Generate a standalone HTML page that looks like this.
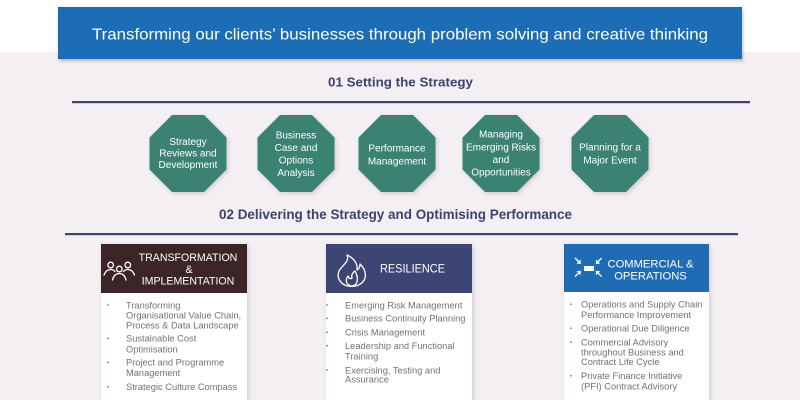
<!DOCTYPE html>
<html><head><meta charset="utf-8">
<style>
html,body{margin:0;padding:0;background:#f3eff2;}
svg{display:block;}
text{font-family:"Liberation Sans",Arial,sans-serif;}
</style></head>
<body>
<svg width="800" height="400" viewBox="0 0 800 400" xmlns="http://www.w3.org/2000/svg">
<defs>
<filter id="sh" x="-10%" y="-10%" width="130%" height="140%">
<feDropShadow dx="1" dy="2" stdDeviation="1.5" flood-color="#000" flood-opacity="0.25"/>
</filter>
<filter id="sh2" x="-10%" y="-10%" width="130%" height="130%">
<feDropShadow dx="1.5" dy="1.5" stdDeviation="2" flood-color="#000" flood-opacity="0.15"/>
</filter>
</defs>
<rect x="0" y="0" width="800" height="400" fill="#f3eff2"/>
<rect x="0" y="0" width="800" height="52" fill="#ffffff"/>

<!-- banner -->
<rect x="58" y="7" width="684" height="52" fill="#1f6db5" filter="url(#sh)"/>
<text x="92" y="39.5" font-size="16" fill="#ffffff" textLength="616" lengthAdjust="spacingAndGlyphs">Transforming our clients’ businesses through problem solving and creative thinking</text>

<!-- section 1 -->
<text x="328" y="86.5" font-size="12.5" font-weight="bold" fill="#3d4270" textLength="145" lengthAdjust="spacingAndGlyphs">01 Setting the Strategy</text>
<rect x="72" y="101" width="678" height="2.2" fill="#3d4270"/>

<!-- octagons -->
<g fill="#3b8272" filter="url(#sh2)">
<polygon points="172,115 204,115 226.5,137.5 226.5,169.5 204,192 172,192 149.5,169.5 149.5,137.5"/>
<polygon points="280,115 312,115 334.5,137.5 334.5,169.5 312,192 280,192 257.5,169.5 257.5,137.5"/>
<polygon points="381,115 413,115 435.5,137.5 435.5,169.5 413,192 381,192 358.5,169.5 358.5,137.5"/>
<polygon points="485,115 517,115 539.5,137.5 539.5,169.5 517,192 485,192 462.5,169.5 462.5,137.5"/>
<polygon points="594,115 626,115 648.5,137.5 648.5,169.5 626,192 594,192 571.5,169.5 571.5,137.5"/>
</g>
<g font-size="10" fill="#ffffff" text-anchor="middle">
<text x="188" y="145">Strategy</text>
<text x="188" y="156.5">Reviews and</text>
<text x="188" y="168">Development</text>
<text x="296" y="138.5">Business</text>
<text x="296" y="151">Case and</text>
<text x="296" y="163.5">Options</text>
<text x="296" y="176">Analysis</text>
<text x="397" y="151.5">Performance</text>
<text x="397" y="164.5">Management</text>
<text x="501" y="137.5">Managing</text>
<text x="501" y="150.5">Emerging Risks</text>
<text x="501" y="163">and</text>
<text x="501" y="175.5">Opportunities</text>
<text x="610" y="150.5">Planning for a</text>
<text x="610" y="163.5">Major Event</text>
</g>

<!-- section 2 -->
<text x="219" y="219" font-size="14" font-weight="bold" fill="#3d4270" textLength="353" lengthAdjust="spacingAndGlyphs">02 Delivering the Strategy and Optimising Performance</text>
<rect x="65" y="233" width="673" height="2.2" fill="#3d4270"/>

<!-- cards -->
<g filter="url(#sh2)">
<rect x="101" y="244" width="146" height="160" fill="#ffffff"/>
<rect x="326" y="244" width="146" height="160" fill="#ffffff"/>
<rect x="564" y="244" width="145" height="160" fill="#ffffff"/>
</g>
<rect x="101" y="244" width="146" height="49" fill="#3b2527"/>
<rect x="326" y="244" width="146" height="49" fill="#3d4575"/>
<rect x="564" y="244" width="145" height="48" fill="#1f6cb5"/>

<!-- card1 header -->
<g fill="none" stroke="#ffffff" stroke-width="1.3" stroke-linecap="round">
<circle cx="110.7" cy="265" r="2.8"/>
<circle cx="119.3" cy="269" r="2.8"/>
<circle cx="127.8" cy="265" r="2.8"/>
<path d="M104,275 Q106,269.5 110.7,269.5 Q113.5,269.5 115,271.5"/>
<path d="M134.5,275 Q132.5,269.5 127.8,269.5 Q125,269.5 123.5,271.5"/>
<path d="M112.5,280 Q114,273.5 119.3,273.5 Q124.5,273.5 126,280"/>
</g>
<g font-size="10.6" fill="#ffffff" text-anchor="middle">
<text x="188" y="261">TRANSFORMATION</text>
<text x="189" y="273">&amp;</text>
<text x="188" y="284.5">IMPLEMENTATION</text>
</g>

<!-- card2 header -->
<g fill="none" stroke="#ffffff" stroke-width="1.3" stroke-linejoin="round">
<path d="M347,255 C350,262 342,265 339,271 C336,278 341,286 351,286.5 C361,286.5 367,280 365,272 C364,268 362,266 360,264 C360,267 359,269 357,270 C358,264 354,258 347,255 Z"/>
<path d="M351,286 C346,284.5 345,280 348,276 C349,279 351,279 352,278 C351,275 353,272 355,271 C357,275 358,278 357,282 C356,285 354,286 351,286 Z"/>
</g>
<text x="380" y="272.5" font-size="11.5" fill="#ffffff" textLength="65" lengthAdjust="spacingAndGlyphs">RESILIENCE</text>

<!-- card3 header -->
<g stroke="#ffffff" stroke-width="1.3" fill="#ffffff">
<line x1="575" y1="258" x2="579.5" y2="262.5"/>
<polygon points="581,264 576.5,263.5 580.5,259.5" stroke="none"/>
<line x1="601.7" y1="258" x2="597.2" y2="262.5"/>
<polygon points="595.7,264 600.2,263.5 596.2,259.5" stroke="none"/>
<line x1="575" y1="276.7" x2="579.5" y2="272.2"/>
<polygon points="581,270.7 576.5,271.2 580.5,275.2" stroke="none"/>
<line x1="601.7" y1="276.7" x2="597.2" y2="272.2"/>
<polygon points="595.7,270.7 600.2,271.2 596.2,275.2" stroke="none"/>
<rect x="584" y="266" width="10" height="5" stroke="none"/>
</g>
<g font-size="11.2" fill="#ffffff" text-anchor="middle">
<text x="650.5" y="267.5">COMMERCIAL &amp;</text>
<text x="650.5" y="279.5">OPERATIONS</text>
</g>

<!-- bodies -->
<g font-size="9.3" fill="#727272">
<text x="126" y="308.3">Transforming</text>
<text x="126" y="318.3">Organisational Value Chain,</text>
<text x="126" y="328.3">Process &amp; Data Landscape</text>
<text x="126" y="341.6">Sustainable Cost</text>
<text x="126" y="352.6">Optimisation</text>
<text x="126" y="365.6">Project and Programme</text>
<text x="126" y="376">Management</text>
<text x="126" y="390">Strategic Culture Compass</text>

<text x="345" y="308.3">Emerging Risk Management</text>
<text x="345" y="321.6">Business Continuity Planning</text>
<text x="345" y="335.6">Crisis Management</text>
<text x="345" y="349">Leadership and Functional</text>
<text x="345" y="359.3">Training</text>
<text x="345" y="373.3">Exercising, Testing and</text>
<text x="345" y="382.6">Assurance</text>

<text x="581" y="307.6">Operations and Supply Chain</text>
<text x="581" y="318">Performance Improvement</text>
<text x="581" y="331.6">Operational Due Diligence</text>
<text x="581" y="345.6">Commercial Advisory</text>
<text x="581" y="355.3">throughout Business and</text>
<text x="581" y="365">Contract Life Cycle</text>
<text x="581" y="379">Private Finance Initiative</text>
<text x="581" y="389.3">(PFI) Contract Advisory</text>
</g>
<g fill="#808080">
<circle cx="108" cy="305" r="0.9"/>
<circle cx="108" cy="338.3" r="0.9"/>
<circle cx="108" cy="362.3" r="0.9"/>
<circle cx="108" cy="386.7" r="0.9"/>
<circle cx="327" cy="305" r="0.9"/>
<circle cx="327" cy="318.3" r="0.9"/>
<circle cx="327" cy="332.3" r="0.9"/>
<circle cx="327" cy="345.7" r="0.9"/>
<circle cx="327" cy="370" r="0.9"/>
<circle cx="571" cy="304.3" r="0.9"/>
<circle cx="571" cy="328.3" r="0.9"/>
<circle cx="571" cy="342.3" r="0.9"/>
<circle cx="571" cy="375.7" r="0.9"/>
</g>
</svg>
</body></html>
